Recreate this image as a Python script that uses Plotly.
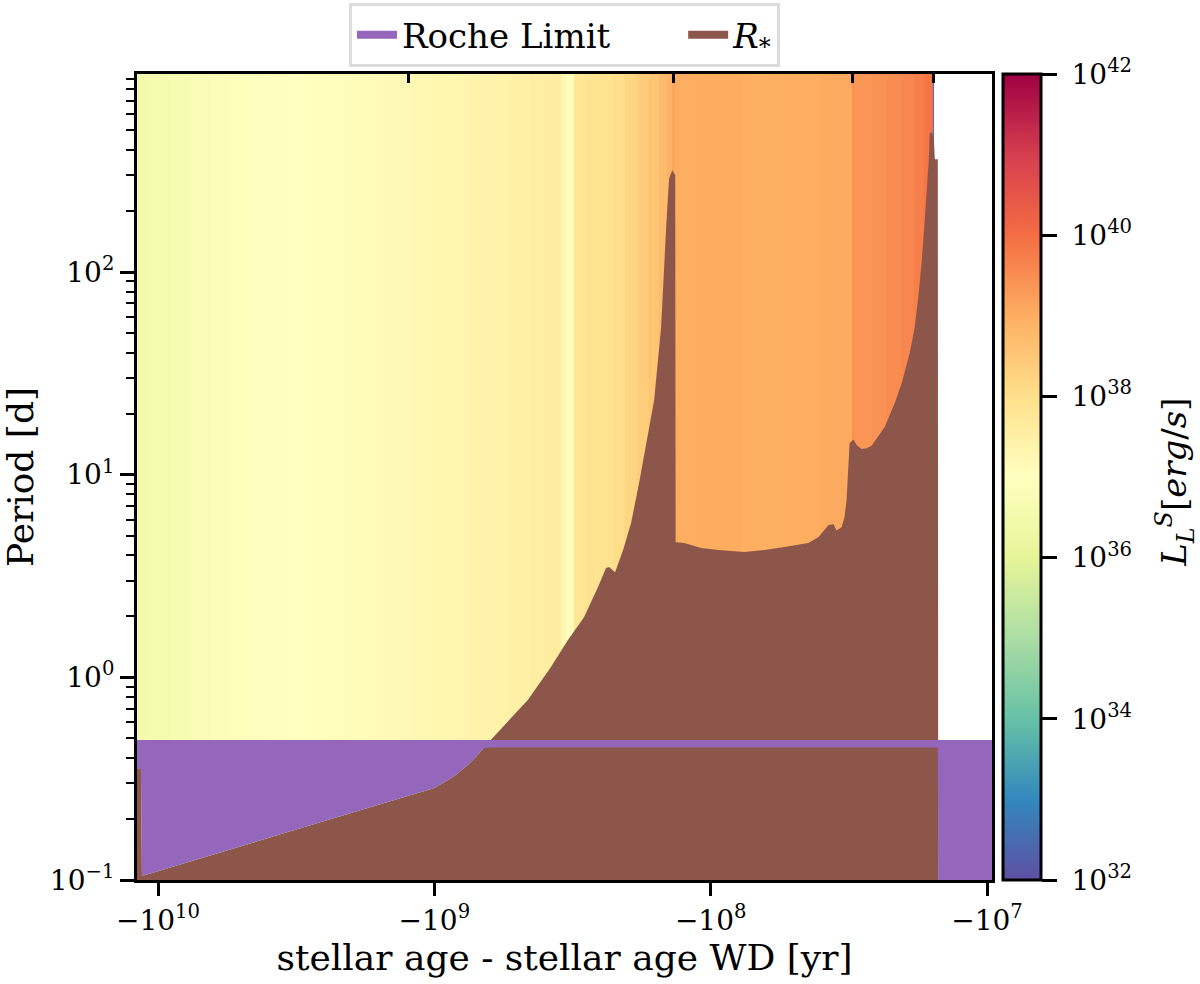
import numpy as np
import plotly.graph_objects as go
import plotly.colors as pc

# ---------------- data ----------------
# background luminosity bands: column edges in (stellar age - WD age) [yr] and log10 L [erg/s]
heat_edges_yr = [-1.192e10, -1.069e10, -9.05e9, -7.65e9, -6.48e9, -5.48e9, -4.64e9, -3.925e9,
                 -3.32e9, -2.81e9, -2.378e9, -2.012e9, -1.702e9, -1.440e9, -1.219e9, -1.031e9,
                 -8.73e8, -7.39e8, -6.25e8, -5.29e8, -4.475e8, -3.79e8, -3.48e8, -3.34e8,
                 -3.12e8, -2.826e8, -2.494e8, -2.256e8, -2.041e8, -1.846e8, -1.670e8, -1.536e8,
                 -1.437e8, -1.378e8, -1.344e8, -1.082e8, -7.74e7, -5.54e7, -3.97e7, -3.09e7,
                 -3.01e7, -2.616e7, -2.307e7, -2.035e7, -1.841e7, -1.694e7, -1.571e7, -1.552e7]
log_L = [36.5, 36.58, 36.66, 36.74, 36.82, 36.88, 36.94, 36.98, 37.0, 37.03,
         37.07, 37.11, 37.15, 37.19, 37.23, 37.28, 37.33, 37.38, 37.43, 37.49,
         37.55, 37.6, 37.3, 37.05, 37.8, 37.86, 37.93, 38.05, 38.2, 38.38,
         38.55, 38.72, 38.88, 39.12, 39.0, 39.02, 38.98, 39.0, 39.06, 39.42,
         39.35, 39.43, 39.52, 39.6, 39.72, 39.88, 32.3]

# stellar radius expressed as orbital period [d]
rstar_age = [-1.192e10, -1.153e10, -1.143e10, -7.04e9, -3.055e9, -1.527e9, -1.006e9, -8.95e8,
             -8.37e8, -7.57e8, -7.08e8, -6.63e8, -6.25e8, -4.59e8, -3.79e8, -3.285e8,
             -2.874e8, -2.557e8, -2.392e8, -2.332e8, -2.218e8, -2.075e8, -1.941e8, -1.816e8,
             -1.684e8, -1.602e8, -1.511e8, -1.474e8, -1.449e8, -1.425e8, -1.413e8, -1.378e8,
             -1.344e8, -1.339e8, -1.247e8, -1.082e8, -9.39e7, -7.55e7, -6.39e7, -5.41e7,
             -4.43e7, -4.07e7, -3.745e7, -3.592e7, -3.503e7, -3.36e7, -3.277e7, -3.223e7,
             -3.169e7, -3.143e7, -3.04e7, -2.965e7, -2.843e7, -2.727e7, -2.616e7, -2.346e7,
             -2.159e7, -2.035e7, -1.904e7, -1.826e7, -1.766e7, -1.722e7, -1.680e7, -1.652e7,
             -1.625e7, -1.611e7, -1.584e7, -1.558e7, -1.545e7, -1.507e7, -1.501e7]
rstar_P = [0.353, 0.353, 0.1046, 0.128, 0.180, 0.239, 0.284, 0.311,
           0.330, 0.369, 0.404, 0.448, 0.491, 0.773, 1.12, 1.53,
           1.98, 2.79, 3.46, 3.50, 3.3, 4.25, 5.77, 9.1,
           16.0, 23.3, 53.5, 114.0, 167.0, 245.0, 290.0, 318.0,
           301.0, 4.64, 4.6, 4.35, 4.25, 4.15, 4.25, 4.4,
           4.6, 4.92, 5.64, 5.7, 5.3, 5.5, 6.2, 7.5,
           10.9, 14.3, 14.9, 14.0, 13.4, 13.5, 13.9, 17.2,
           22.5, 28.3, 39.8, 53.5, 78.7, 114.0, 180.0, 245.0,
           357.0, 484.0, 490.0, 462.0, 360.0, 360.0, 0.05]

# Roche limit band [d] and its age span
roche_age = [-1.25e10, -9.0e6]
roche_P_low = 0.45
roche_P_high = 0.49
baseline_P = 0.05

# event markers (top axis ticks)
event_age = [-1.239e9, -1.367e8, -3.065e7, -1.558e7]

# axis ticks
x_tick_exp = [10, 9, 8, 7]
y_tick_vals = [0.1, 1, 10, 100]
y_tick_text = ["10<sup>\u22121</sup>", "10<sup>0</sup>", "10<sup>1</sup>", "10<sup>2</sup>"]
cb_tick_vals = [32, 34, 36, 38, 40, 42]

# ---------------- transforms ----------------
def xf(a):
    a = np.asarray(a, dtype=float)
    return -np.log10(-a)

FONT = "DejaVu Serif"
PURPLE = "#9467bd"
BROWN = "#8c564b"

x_range = [-10.076, -6.982]
y_range = [-1.0, 2.977]

spectral_r = pc.diverging.Spectral[::-1]
cscale = [[i / (len(spectral_r) - 1), c] for i, c in enumerate(spectral_r)]

fig = go.Figure()

# background heatmap
fig.add_trace(go.Heatmap(
    x=xf(heat_edges_yr), y=[baseline_P, 5000.0], z=[log_L],
    colorscale=cscale, zmin=32, zmax=42, hoverinfo="skip",
    colorbar=dict(
        x=1.0129, xanchor="left", xpad=0, y=0.5, yanchor="middle", ypad=0,
        len=1.0, lenmode="fraction", thickness=38,
        outlinewidth=3, outlinecolor="black",
        tickvals=cb_tick_vals,
        ticktext=[f"\u00a010<sup>{v}</sup>" for v in cb_tick_vals],
        ticks="outside", ticklen=15, tickwidth=3, tickcolor="black",
        tickfont=dict(family=FONT, size=28, color="black"),
    ),
))

# R_* fill (brown)
rx = xf(rstar_age)
fig.add_trace(go.Scatter(x=rx, y=[baseline_P] * len(rx), mode="lines",
                         line=dict(width=0, color=BROWN), showlegend=False, hoverinfo="skip"))
fig.add_trace(go.Scatter(x=rx, y=rstar_P, mode="lines", fill="tonexty", fillcolor=BROWN,
                         line=dict(width=0, color=BROWN), showlegend=False, hoverinfo="skip"))

# Roche limit fill (purple): from min(R_*, lower band edge) up to the upper band edge
px_ = np.concatenate([[xf(roche_age[0])], rx, [xf(roche_age[-1])]])
low = np.concatenate([[min(rstar_P[0], roche_P_low)],
                      np.minimum(np.asarray(rstar_P), roche_P_low),
                      [baseline_P]])
fig.add_trace(go.Scatter(x=px_, y=low, mode="lines", line=dict(width=0, color=PURPLE),
                         showlegend=False, hoverinfo="skip"))
fig.add_trace(go.Scatter(x=px_, y=[roche_P_high] * len(px_), mode="lines", fill="tonexty",
                         fillcolor=PURPLE, line=dict(width=0, color=PURPLE),
                         showlegend=False, hoverinfo="skip"))

# legend entries
fig.add_trace(go.Scatter(x=[None], y=[None], mode="lines",
                         name="Roche Limit\u2003\u2003",
                         line=dict(color=PURPLE, width=8)))
fig.add_trace(go.Scatter(x=[None], y=[None], mode="lines", name="<i>R</i><sub>*</sub>",
                         line=dict(color=BROWN, width=8)))

# invisible trace on top axis (event ticks)
ex = xf(event_age)
fig.add_trace(go.Scatter(x=ex, y=[1] * len(ex), xaxis="x2", mode="markers",
                         marker=dict(opacity=0), showlegend=False, hoverinfo="skip"))

fig.update_layout(
    width=1200, height=984,
    margin=dict(l=137, r=208, t=74, b=104, autoexpand=False),
    paper_bgcolor="white", plot_bgcolor="white",
    font=dict(family=FONT, color="black", size=30),
    showlegend=True,
    legend=dict(orientation="h", x=0.5, xanchor="center", y=1.088, yanchor="top",
                traceorder="normal",
                bordercolor="#dcdcdc", borderwidth=3, bgcolor="white",
                font=dict(family=FONT, size=34), itemwidth=40),
    xaxis=dict(range=x_range, tickvals=[-e for e in x_tick_exp],
               ticktext=[f"\u221210<sup>{e}</sup>" for e in x_tick_exp],
               ticks="outside", ticklen=13, tickwidth=3, tickcolor="black",
               showline=True, linewidth=3, linecolor="black", mirror=True,
               showgrid=False, zeroline=False,
               tickfont=dict(family=FONT, size=28),
               title=dict(text="stellar age - stellar age WD [yr]",
                          font=dict(family=FONT, size=36), standoff=4)),
    xaxis2=dict(range=x_range, overlaying="x", side="top", anchor="y",
                tickvals=list(ex), ticks="inside", ticklen=9, tickwidth=3, tickcolor="black",
                showticklabels=False, showgrid=False, zeroline=False, showline=False),
    yaxis=dict(type="log", range=y_range, tickvals=y_tick_vals, ticktext=y_tick_text,
               ticks="outside", ticklen=14, tickwidth=3, tickcolor="black",
               showline=True, linewidth=3, linecolor="black", mirror=True,
               showgrid=False, zeroline=False,
               minor=dict(tickvals=[m * 10.0 ** k for k in range(-1, 3) for m in range(2, 10)],
                          ticks="outside", ticklen=8, tickwidth=2, tickcolor="black",
                          showgrid=False),
               tickfont=dict(family=FONT, size=28),
               title=dict(text="Period [d]", font=dict(family=FONT, size=36), standoff=10)),
    annotations=[dict(
        text="<i>L</i><sub><i>L</i></sub><sup><i>S</i></sup>[<i>erg</i>/<i>s</i>]",
        xref="paper", yref="paper", x=1.214, y=0.494, textangle=-90,
        showarrow=False, font=dict(family=FONT, size=34), xanchor="center", yanchor="middle")],
)

fig.write_html("out.html")
